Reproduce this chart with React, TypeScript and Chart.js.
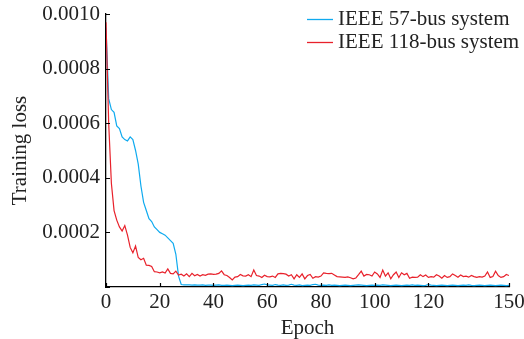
import React, { useEffect, useRef } from 'react';
import { Chart, registerables } from 'chart.js';
Chart.register(...registerables);

const epochs: number[] = Array.from({ length: 151 }, (_, i) => i);

const loss57: number[] = [
  0.00095, 0.00069, 0.00065, 0.00064, 0.00059, 0.00058, 0.00055, 0.00054, 0.000535, 0.00055,
  0.00054, 0.0005, 0.00045, 0.00037, 0.00031, 0.00028, 0.00025, 0.00024, 0.00022, 0.00021,
  0.0002, 0.000195, 0.00019, 0.00018, 0.00017, 0.00016, 0.00012, 0.00004, 0.000009, 0.000008,
  0.000008, 0.000008, 0.000007, 0.000008, 0.000007, 0.000007, 0.000008, 0.000006, 0.000007, 0.000007,
  0.000006, 0.000007, 0.000008, 0.000006, 0.000006, 0.000007, 0.000006, 0.000005, 0.000006, 0.000007,
  0.000006, 0.000005, 0.000006, 0.000007, 0.000006, 0.000008, 0.000007, 0.000006, 0.000009, 0.000011,
  0.000008, 0.000007, 0.000006, 0.000009, 0.000007, 0.000006, 0.000008, 0.000006, 0.000007, 0.00001,
  0.000007, 0.000006, 0.000008, 0.000005, 0.000006, 0.000007, 0.000006, 0.000009, 0.00001, 0.000007,
  0.000006, 0.000007, 0.000006, 0.000008, 0.000006, 0.000007, 0.000006, 0.000005, 0.000006, 0.000007,
  0.000006, 0.000005, 0.000006, 0.000007, 0.000008, 0.000007, 0.000006, 0.000005, 0.000006, 0.000007,
  0.000006, 0.000007, 0.000006, 0.000008, 0.000007, 0.000006, 0.000005, 0.000006, 0.000007, 0.000006,
  0.000005, 0.000006, 0.000007, 0.000006, 0.000008, 0.000006, 0.000007, 0.000006, 0.000005, 0.000006,
  0.000009, 0.000007, 0.000006, 0.000005, 0.000006, 0.000007, 0.000006, 0.000005, 0.000006, 0.000007,
  0.000006, 0.000005, 0.000006, 0.000007, 0.000006, 0.000008, 0.000006, 0.000005, 0.000006, 0.000007,
  0.000006, 0.000005, 0.000006, 0.000007, 0.000006, 0.000005, 0.000006, 0.000007, 0.000006, 0.000005,
  0.000006,
];

const loss118: number[] = [
  0.00097, 0.0006, 0.00038, 0.00028, 0.000245, 0.00022, 0.000205, 0.000225, 0.00019, 0.000145,
  0.000125, 0.00015, 0.000108, 0.0001, 0.000105, 0.00008, 0.000079, 0.000075, 0.000056, 0.000055,
  0.000052, 0.000055, 0.000051, 0.000066, 0.00005, 0.000048, 0.000058, 0.000044, 0.000047, 0.00004,
  0.000048, 0.000038, 0.00005, 0.000041, 0.000046, 0.00004, 0.000045, 0.000043, 0.000047, 0.000048,
  0.000046, 0.000047, 0.00005, 0.000059, 0.000045, 0.000042, 0.000035, 0.000026, 0.000036, 0.000038,
  0.000046, 0.000041, 0.00004, 0.000045, 0.000038, 0.000062, 0.000042, 0.00004, 0.000035, 0.000043,
  0.000038, 0.000037, 0.00004, 0.000035, 0.000048, 0.00005, 0.000049, 0.000047, 0.00004, 0.000045,
  0.00003, 0.000045, 0.000035, 0.000048, 0.00003, 0.000042, 0.000046, 0.000032, 0.000038, 0.000036,
  0.00004, 0.000052, 0.00005, 0.000049, 0.00005, 0.000044, 0.000038, 0.000037, 0.000036, 0.000035,
  0.000037, 0.000034, 0.00003, 0.000033, 0.000045, 0.000058, 0.00004, 0.000046, 0.000045, 0.00004,
  0.000055, 0.000048, 0.000035, 0.000062, 0.00004, 0.000052, 0.00003, 0.000045, 0.000055, 0.000035,
  0.000052, 0.000045, 0.00005, 0.000032, 0.000036, 0.000035, 0.000036, 0.000045, 0.000038, 0.000044,
  0.000035, 0.000038, 0.000036, 0.000045, 0.00004, 0.000032, 0.000042, 0.000035, 0.000038, 0.000048,
  0.000042, 0.000036, 0.000044, 0.000038, 0.00004, 0.000036, 0.000042, 0.000038, 0.000035, 0.000038,
  0.000036, 0.00004, 0.000055, 0.000035, 0.000038, 0.000058, 0.000042, 0.000035, 0.000038, 0.000046,
  0.000042,
];

const xTickValues: number[] = [0, 20, 40, 60, 80, 100, 120, 150];
const yTickValues: number[] = [0, 0.0002, 0.0004, 0.0006, 0.0008, 0.001];
const seriesNames: string[] = ['IEEE 57-bus system', 'IEEE 118-bus system'];
const seriesColors: string[] = ['#0FAAEF', '#E8212B'];

const FONT_FAMILY = '"Liberation Serif", "Times New Roman", serif';
const TEXT_COLOR = '#222222';

export default function App() {
  const ref = useRef<HTMLCanvasElement>(null);

  useEffect(() => {
    const font = { family: FONT_FAMILY, size: 21 };

    const innerTicks = {
      id: 'innerTicks',
      afterDatasetsDraw(chart: any) {
        const ctx = chart.ctx;
        const xs = chart.scales.x;
        const ys = chart.scales.y;
        const { left, bottom } = chart.chartArea;
        ctx.save();
        ctx.strokeStyle = '#000';
        ctx.lineWidth = 1.2;
        ctx.beginPath();
        xTickValues.forEach((v) => {
          const px = Math.round(xs.getPixelForValue(v)) + 0.5;
          ctx.moveTo(px, bottom);
          ctx.lineTo(px, bottom - 4);
        });
        yTickValues.forEach((v) => {
          const py = Math.round(ys.getPixelForValue(v)) + 0.5;
          ctx.moveTo(left, py);
          ctx.lineTo(left + 4, py);
        });
        ctx.stroke();
        ctx.restore();
      },
    };

    const customLegend = {
      id: 'customLegend',
      afterDraw(chart: any) {
        const ctx = chart.ctx;
        ctx.save();
        ctx.font = `21px ${FONT_FAMILY}`;
        ctx.textBaseline = 'middle';
        ctx.textAlign = 'left';
        const rows = [19, 42];
        seriesNames.forEach((name, i) => {
          const y = rows[i];
          ctx.strokeStyle = seriesColors[i];
          ctx.lineWidth = 1.3;
          ctx.beginPath();
          ctx.moveTo(307, y + 0.5);
          ctx.lineTo(333, y + 0.5);
          ctx.stroke();
          ctx.fillStyle = TEXT_COLOR;
          ctx.fillText(name, 338, y);
        });
        ctx.restore();
      },
    };

    const chart = new Chart(ref.current as HTMLCanvasElement, {
      type: 'line',
      data: {
        datasets: [
          {
            label: seriesNames[1],
            data: epochs.map((e, i) => ({ x: e, y: loss118[i] })),
            borderColor: seriesColors[1],
            borderWidth: 1.2,
            pointRadius: 0,
            tension: 0,
            fill: false,
          },
          {
            label: seriesNames[0],
            data: epochs.map((e, i) => ({ x: e, y: loss57[i] })),
            borderColor: seriesColors[0],
            borderWidth: 1.2,
            pointRadius: 0,
            tension: 0,
            fill: false,
          },
        ],
      },
      options: {
        animation: false,
        responsive: false,
        devicePixelRatio: 1,
        layout: { padding: { top: 14, right: 15, bottom: 0, left: 0 } },
        plugins: { legend: { display: false }, tooltip: { enabled: false } },
        scales: {
          x: {
            type: 'linear',
            min: 0,
            max: 150,
            afterBuildTicks: (s: any) => {
              s.ticks = xTickValues.map((v) => ({ value: v }));
            },
            afterFit: (s: any) => {
              s.height = 52;
              s.paddingLeft = 0;
              s.paddingRight = 0;
            },
            grid: { display: false, drawTicks: false },
            border: { display: true, color: '#000', width: 1.3 },
            ticks: {
              font,
              color: TEXT_COLOR,
              padding: 3,
              maxRotation: 0,
              autoSkip: false,
              callback: (v: any) => String(v),
            },
            title: {
              display: true,
              text: 'Epoch',
              font,
              color: TEXT_COLOR,
              padding: { top: 0, bottom: -2 },
            },
          },
          y: {
            type: 'linear',
            min: 0,
            max: 0.001,
            afterBuildTicks: (s: any) => {
              s.ticks = yTickValues.map((v) => ({ value: v }));
            },
            afterFit: (s: any) => {
              s.width = 106;
              s.paddingTop = 0;
              s.paddingBottom = 0;
            },
            grid: { display: false, drawTicks: false },
            border: { display: true, color: '#000', width: 1.3 },
            ticks: {
              font,
              color: TEXT_COLOR,
              padding: 6,
              callback: (v: any) => (Number(v) === 0 ? '' : Number(v).toFixed(4)),
            },
            title: {
              display: true,
              text: 'Training loss',
              font,
              color: TEXT_COLOR,
              padding: { top: 8, bottom: 0 },
            },
          },
        },
      },
      plugins: [innerTicks, customLegend],
    } as any);

    return () => chart.destroy();
  }, []);

  return (
    <div style={{ position: 'absolute', left: 0, top: 0, width: 524, height: 339, background: '#fff' }}>
      <canvas ref={ref} width={524} height={339} style={{ display: 'block' }} />
    </div>
  );
}
